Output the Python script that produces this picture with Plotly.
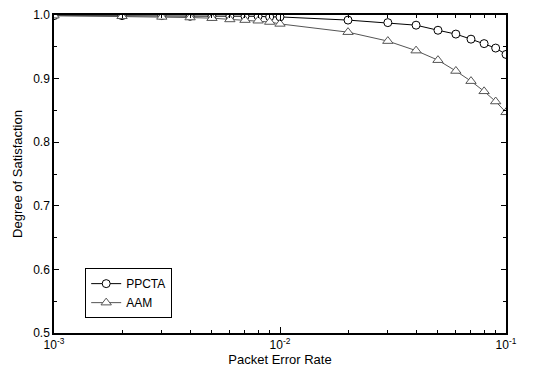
import plotly.graph_objects as go

per = [0.001, 0.002, 0.003, 0.004, 0.005, 0.006, 0.007, 0.008, 0.009, 0.01,
       0.02, 0.03, 0.04, 0.05, 0.06, 0.07, 0.08, 0.09, 0.1]
ppcta = [0.999, 0.999, 0.999, 0.998, 0.998, 0.998, 0.998, 0.998, 0.997, 0.997,
         0.992, 0.988, 0.984, 0.976, 0.970, 0.962, 0.955, 0.948, 0.938]
aam = [0.999, 0.998, 0.997, 0.996, 0.995, 0.993, 0.992, 0.991, 0.989, 0.986,
       0.973, 0.959, 0.944, 0.929, 0.912, 0.896, 0.880, 0.864, 0.847]

x_major = [0.001, 0.01, 0.1]
x_major_text = ["10<sup>-3</sup>", "10<sup>-2</sup>", "10<sup>-1</sup>"]
x_minor = [0.002, 0.003, 0.004, 0.005, 0.006, 0.007, 0.008, 0.009,
           0.02, 0.03, 0.04, 0.05, 0.06, 0.07, 0.08, 0.09]
y_major = [0.5, 0.6, 0.7, 0.8, 0.9, 1.0]
y_major_text = ["0.5", "0.6", "0.7", "0.8", "0.9", "1.0"]

fig = go.Figure()
fig.add_trace(go.Scatter(
    x=per, y=ppcta, name="PPCTA", mode="lines+markers",
    line=dict(color="black", width=1),
    marker=dict(symbol="circle", size=8, color="white", line=dict(color="black", width=1)),
))
fig.add_trace(go.Scatter(
    x=per, y=aam, name="AAM", mode="lines+markers",
    line=dict(color="#555555", width=1),
    marker=dict(symbol="triangle-up", size=9, color="white", line=dict(color="#555555", width=1)),
))

fig.update_layout(
    width=542, height=374,
    margin=dict(l=46, r=44, t=7, b=49),
    paper_bgcolor="white", plot_bgcolor="white",
    font=dict(family="Liberation Sans, Arial", size=12, color="black"),
    showlegend=True,
    legend=dict(x=0.069, y=0.204, xanchor="left", yanchor="top",
                bordercolor="black", borderwidth=1, bgcolor="white",
                font=dict(size=12), tracegroupgap=0, itemwidth=30),
    xaxis=dict(
        type="log", range=[-3, -1], automargin=False,
        tickmode="array", tickvals=x_major, ticktext=x_major_text,
        ticks="inside", ticklen=6, tickcolor="black",
        showline=True, linecolor="black", linewidth=1.5, mirror="allticks",
        showgrid=False, zeroline=False,
        minor=dict(tickmode="array", tickvals=x_minor, ticks="inside", ticklen=3, tickcolor="black", showgrid=False),
        title=dict(text="Packet Error Rate", font=dict(size=13), standoff=2),
    ),
    yaxis=dict(
        range=[0.5, 1.0], automargin=False,
        tickmode="array", tickvals=y_major, ticktext=y_major_text,
        ticks="inside", ticklen=5, tickcolor="black",
        showline=True, linecolor="black", linewidth=1.5, mirror="allticks",
        showgrid=False, zeroline=False,
        minor=dict(dtick=0.05, ticks="inside", ticklen=3, tickcolor="black", showgrid=False),
        title=dict(text="Degree of Satisfaction", font=dict(size=13), standoff=8),
    ),
)

fig.write_html("out.html")
